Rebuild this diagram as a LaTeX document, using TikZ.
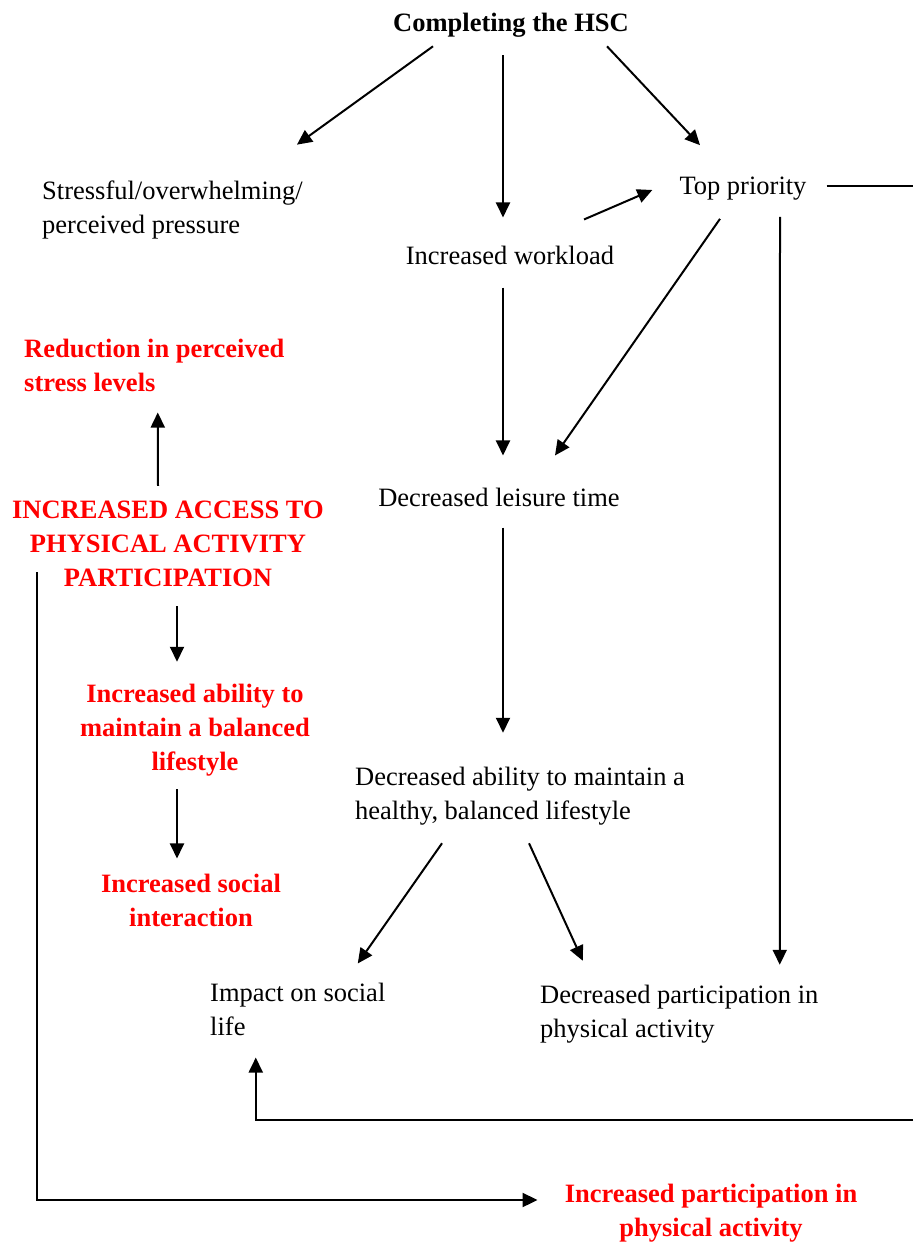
\documentclass[tikz,border=0pt]{standalone}
\usepackage{fontspec}
\setmainfont{Liberation Serif}
\usetikzlibrary{arrows.meta,calc}
\definecolor{ink}{HTML}{000000}
\definecolor{alert}{HTML}{FF0000}
\tikzset{
  txt/.style={inner sep=0pt,text=ink,font=\fontsize{26.5}{34}\selectfont},
  hot/.style={inner sep=0pt,text=alert,align=center,font=\fontsize{26.5}{34}\selectfont\bfseries},
  fl/.style={-{Triangle[length=15pt,width=14pt]},draw=ink,line width=2pt},
  ln/.style={draw=ink,line width=2pt},
}
\begin{document}
\begin{tikzpicture}[x=1pt,y=-1pt]
\useasboundingbox (0,0) rectangle (913,1244);
% causes of reduced activity
\node[txt,font=\fontsize{26.5}{34}\selectfont\bfseries] (hsc) at (511,25) {Completing the HSC};
\node[txt,anchor=west,align=left] (stress) at (42,209.5) {Stressful/overwhelming/\\perceived pressure};
\node[txt] (work) at (510,255) {Increased workload};
\node[txt] (top) at (743,189) {Top priority};
\node[txt] (leisure) at (499,497) {Decreased leisure time};
\node[txt,anchor=west,align=left] (dability) at (355,796) {Decreased ability to maintain a\\healthy, balanced lifestyle};
\node[txt,anchor=west,align=left] (impact) at (210,1009) {Impact on social\\life};
\node[txt,anchor=west,align=left] (dpart) at (540,1014) {Decreased participation in\\physical activity};
% outcomes of access
\node[hot,anchor=west,align=left] (reduce) at (24,365) {Reduction in perceived\\stress levels};
\node[hot] (access) at (168,543.5) {INCREASED ACCESS TO\\PHYSICAL ACTIVITY\\PARTICIPATION};
\node[hot] (ability) at (195,730) {Increased ability to\\maintain a balanced\\lifestyle};
\node[hot] (social) at (191,900.5) {Increased social\\interaction};
\node[hot] (ipart) at (711,1213) {Increased participation in\\physical activity};
\coordinate (redge1) at (913,186);
\coordinate (redge2) at (913,1120);
\draw[fl] ($(hsc.south)+(-78,9)$)--($(stress.north east)+(-6,-35.5)$);
\draw[fl] ($(hsc.south)+(-8,18)$)--($(work.north)+(-7,-28)$);
\draw[fl] ($(hsc.south)+(96,9)$)--($(top.north)+(-43,-32)$);
\draw[fl] ($(work.north)+(74,-26)$)--($(top.west)+(-27,1)$);
\draw[fl] ($(work.south)+(-7,23)$)--($(leisure.north)+(4,-32)$);
\draw[fl] ($(top.south)+(-23,18)$)--($(leisure.north)+(56,-32)$);
\draw[fl] ($(top.south)+(37,16)$)--($(dpart.north)+(100.5,-20)$);
\draw[ln] ($(top.east)+(20,-3)$)--(redge1);
\draw[fl] ($(leisure.south)+(4,21)$) coordinate (lsdown) -- ($(lsdown |- dability.north)+(0,-34)$);
\draw[fl] ($(dability.south)+(-78,18)$)--($(impact.north)+(60,-19)$);
\draw[fl] ($(dability.south)+(9,18)$)--($(dpart.north)+(-96.5,-24)$);
\draw[fl] (redge2) -| ($(impact.south)+(-42,22)$);
\draw[fl] ($(access.north)+(-10,-14.5)$)--($(reduce.south)+(3.5,21)$);
\draw[fl] ($(access.south)+(9,19.5)$)--($(ability.north)+(-18,-22)$);
\draw[fl] ($(ability.south)+(-18,13)$)--($(social.north)+(-14,-15.5)$);
\draw[fl] ($(access.west)+(25,28.5)$) |- ($(ipart.west)+(-27,-13)$);
\end{tikzpicture}
\end{document}
